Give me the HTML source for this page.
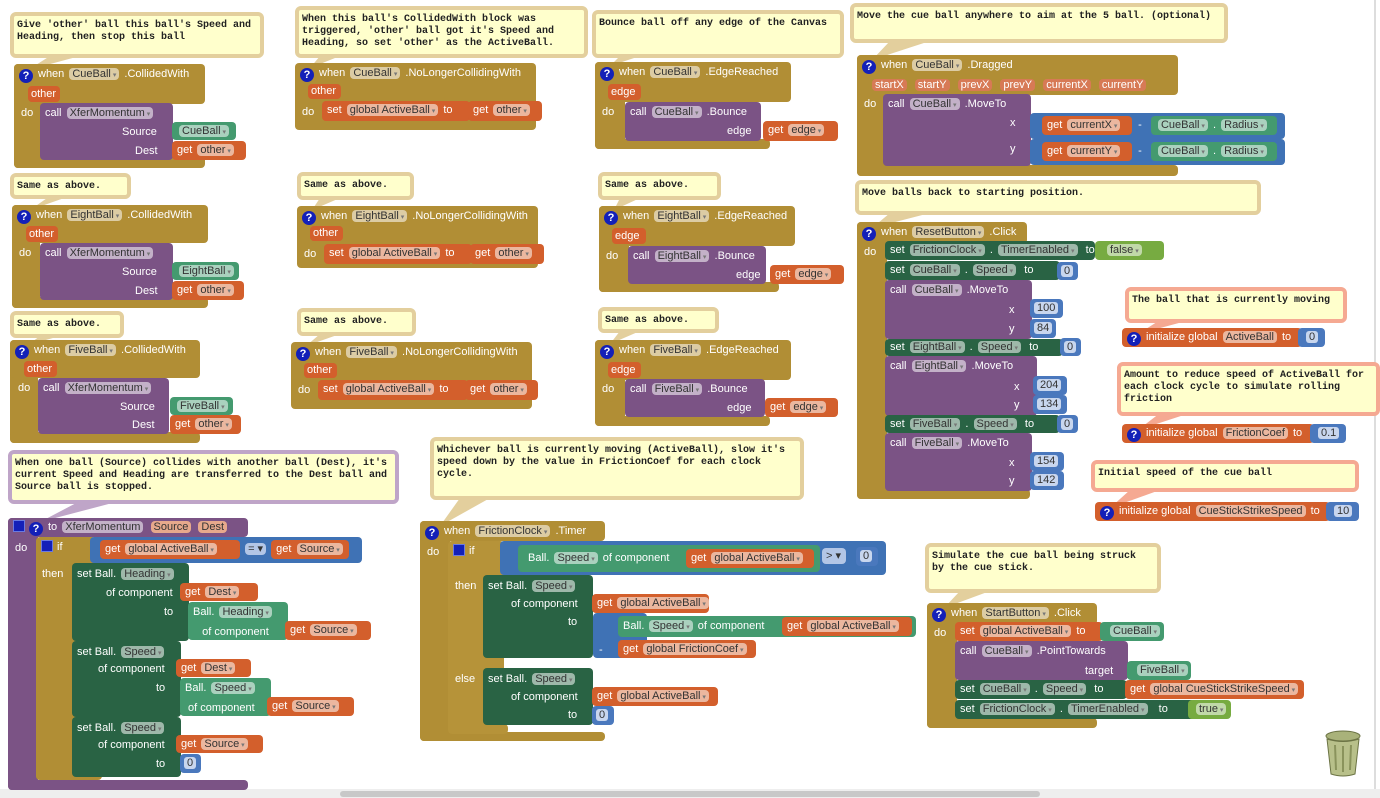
<!DOCTYPE html>
<html><head><meta charset="utf-8">
<style>
body{margin:0;width:1380px;height:798px;background:#fff;position:relative;overflow:hidden;font-family:"Liberation Sans",sans-serif}
.b{position:absolute;z-index:2;box-sizing:border-box;border-radius:4px;color:#fff;font:11px/18px "Liberation Sans",sans-serif;white-space:nowrap;padding-left:5px}
.bg{z-index:1}
.ev{background:#b18e35}
.pu{background:#7b5385}
.or{background:#d35f2c}
.dg{background:#296344}
.lg{background:#449a6f}
.bl{background:#3f72b5}
.lo{background:#77ab41}
.nu{background:#4a78bd;padding-left:4px}
.nu span{background:#c8d6ee;color:#333;border-radius:3px;padding:0 3px}
.f{background:rgba(255,255,255,.55);color:#333;border-radius:4px;padding:0 3px;margin:0 2px}
.f:after{content:" ▾";font-size:7px;color:#777}
.g{background:rgba(255,255,255,.55);color:#333;border-radius:4px;padding:0 3px;margin:0 2px}
.t{position:absolute;z-index:3;color:#fff;font:11px/16px "Liberation Sans",sans-serif;white-space:nowrap}
.c{position:absolute;z-index:2;background:#ffffcc;border:4px solid #e3cf9d;border-radius:6px;font:bold 10px/12px "Liberation Mono",monospace;color:#222;padding:4px 3px;box-sizing:border-box;white-space:pre}
.cp{border-color:#f5a992}
.cv{border-color:#bfa5c8}
.q{display:inline-block;width:14px;height:14px;border-radius:7px;background:#1320b8;color:#fff;font:bold 11px/14px "Liberation Sans";text-align:center;margin-right:5px;vertical-align:-2px}
.sq{display:inline-block;width:12px;height:12px;background:#1320b8;border:1px solid #6a7ae0;box-sizing:border-box;vertical-align:-2px;margin-right:4px}
</style></head><body>
<svg width="1380" height="798" style="position:absolute;left:0;top:0">
<g fill="#e3cf9d">
<polygon points="50,56 80,56 28,70"/>
<polygon points="50,196 70,196 30,210"/>
<polygon points="40,336 60,336 28,345"/>
<polygon points="320,56 340,56 310,68"/>
<polygon points="320,198 340,198 312,210"/>
<polygon points="320,334 340,334 306,346"/>
<polygon points="620,56 640,56 610,66"/>
<polygon points="620,198 640,198 614,210"/>
<polygon points="620,331 640,331 610,344"/>
<polygon points="890,41 930,41 872,60"/>
<polygon points="890,213 930,213 872,228"/>
<polygon points="460,498 490,498 440,526"/>
<polygon points="960,591 990,591 944,608"/>
</g>
<g fill="#f5a992">
<polygon points="1160,320 1190,320 1138,334"/>
<polygon points="1160,413 1190,413 1138,430"/>
<polygon points="1130,490 1160,490 1110,508"/>
</g>
<polygon points="80,501 120,501 40,522" fill="#bfa5c8"/>
<rect x="1374" y="0" width="2" height="790" fill="#ddd"/>
<rect x="0" y="789" width="1380" height="9" fill="#eee"/>
<rect x="340" y="791" width="700" height="6" rx="3" fill="#c8c8c8"/>
<g transform="translate(1325,730)">
<ellipse cx="18" cy="6" rx="17" ry="5" fill="#a9b27a" stroke="#6b7344"/>
<path d="M2,9 L6,44 Q18,48 30,44 L34,9 Q18,14 2,9Z" fill="#b8c08a" stroke="#6b7344"/>
<path d="M10,15 L11,40 M18,16 L18,42 M26,15 L25,40" stroke="#8a935c" stroke-width="2"/>
</g>
</svg>

<!-- Column 1 -->
<div class="c" style="left:10px;top:12px;width:254px;height:46px">Give 'other' ball this ball's Speed and
Heading, then stop this ball</div>
<div class="b ev" style="left:14px;top:64px;width:191px;height:40px;padding-top:1px"><span class="q">?</span>when <span class="f">CueBall</span> .CollidedWith</div>
<div class="b bg ev" style="left:14px;top:64px;width:28px;height:104px"></div>
<div class="b bg ev" style="left:14px;top:156px;width:191px;height:12px"></div>
<div class="b or" style="left:28px;top:86px;width:32px;height:16px;line-height:16px;padding-left:3px">other</div>
<div class="t" style="left:21px;top:105px">do</div>
<div class="b pu" style="left:40px;top:103px;width:133px;height:57px;padding-top:1px">call <span class="f">XferMomentum</span></div>
<div class="t" style="left:122px;top:124px">Source</div>
<div class="t" style="left:135px;top:143px">Dest</div>
<div class="b lg" style="left:172px;top:122px;width:64px;height:18px"><span class="f">CueBall</span></div>
<div class="b or" style="left:172px;top:141px;width:74px;height:19px">get <span class="f">other</span></div>

<div class="c" style="left:10px;top:173px;width:121px;height:26px">Same as above.</div>
<div class="b ev" style="left:12px;top:205px;width:196px;height:38px;padding-top:1px"><span class="q">?</span>when <span class="f">EightBall</span> .CollidedWith</div>
<div class="b bg ev" style="left:12px;top:205px;width:28px;height:103px"></div>
<div class="b bg ev" style="left:12px;top:297px;width:196px;height:11px"></div>
<div class="b or" style="left:26px;top:226px;width:32px;height:16px;line-height:16px;padding-left:3px">other</div>
<div class="t" style="left:19px;top:245px">do</div>
<div class="b pu" style="left:40px;top:243px;width:133px;height:57px;padding-top:1px">call <span class="f">XferMomentum</span></div>
<div class="t" style="left:122px;top:264px">Source</div>
<div class="t" style="left:135px;top:283px">Dest</div>
<div class="b lg" style="left:172px;top:262px;width:67px;height:18px"><span class="f">EightBall</span></div>
<div class="b or" style="left:172px;top:281px;width:72px;height:19px">get <span class="f">other</span></div>

<div class="c" style="left:10px;top:311px;width:114px;height:27px">Same as above.</div>
<div class="b ev" style="left:10px;top:340px;width:190px;height:38px;padding-top:1px"><span class="q">?</span>when <span class="f">FiveBall</span> .CollidedWith</div>
<div class="b bg ev" style="left:10px;top:340px;width:28px;height:103px"></div>
<div class="b bg ev" style="left:10px;top:432px;width:190px;height:11px"></div>
<div class="b or" style="left:24px;top:361px;width:33px;height:16px;line-height:16px;padding-left:3px">other</div>
<div class="t" style="left:18px;top:380px">do</div>
<div class="b pu" style="left:38px;top:378px;width:131px;height:56px;padding-top:1px">call <span class="f">XferMomentum</span></div>
<div class="t" style="left:120px;top:399px">Source</div>
<div class="t" style="left:132px;top:417px">Dest</div>
<div class="b lg" style="left:170px;top:397px;width:63px;height:18px"><span class="f">FiveBall</span></div>
<div class="b or" style="left:170px;top:415px;width:71px;height:19px">get <span class="f">other</span></div>

<div class="c cv" style="left:8px;top:450px;width:391px;height:54px">When one ball (Source) collides with another ball (Dest), it's
current Speed and Heading are transferred to the Dest ball and
Source ball is stopped.</div>
<div class="b pu" style="left:8px;top:518px;width:240px;height:19px;padding-top:0"><span class="sq"></span><span class="q">?</span>to <span class="g">XferMomentum</span> <span class="g" style="background:#e7a98c">Source</span> <span class="g" style="background:#e7a98c">Dest</span></div>
<div class="b bg pu" style="left:8px;top:518px;width:30px;height:272px"></div>
<div class="b bg pu" style="left:8px;top:780px;width:240px;height:10px"></div>
<div class="t" style="left:15px;top:540px">do</div>
<div class="b ev" style="left:36px;top:537px;width:60px;height:243px;padding-top:1px"><span class="sq"></span>if</div>
<div class="b ev" style="left:36px;top:770px;width:66px;height:10px"></div>
<div class="t" style="left:42px;top:566px">then</div>
<div class="b bl" style="left:90px;top:537px;width:272px;height:26px;padding-top:3px;padding-left:10px"><span class="b or" style="position:relative;display:inline-block;height:19px;width:140px;left:0">get <span class="f">global ActiveBall</span></span> <span class="g" style="background:#b3c6e6">= ▾</span> <span class="b or" style="position:relative;display:inline-block;height:19px;width:78px">get <span class="f">Source</span></span></div>
<div class="b dg" style="left:72px;top:563px;width:117px;height:78px;padding-top:2px">set Ball. <span class="f">Heading</span></div>
<div class="t" style="left:106px;top:585px">of component</div>
<div class="t" style="left:164px;top:604px">to</div>
<div class="b or" style="left:180px;top:583px;width:78px;height:18px">get <span class="f">Dest</span></div>
<div class="b lg" style="left:188px;top:602px;width:100px;height:38px;padding-top:1px">Ball. <span class="f">Heading</span><br>&nbsp;&nbsp;&nbsp;of component</div>
<div class="b or" style="left:285px;top:621px;width:86px;height:19px">get <span class="f">Source</span></div>
<div class="b dg" style="left:72px;top:641px;width:109px;height:76px;padding-top:2px">set Ball. <span class="f">Speed</span></div>
<div class="t" style="left:98px;top:661px">of component</div>
<div class="t" style="left:156px;top:680px">to</div>
<div class="b or" style="left:176px;top:659px;width:75px;height:18px">get <span class="f">Dest</span></div>
<div class="b lg" style="left:180px;top:678px;width:91px;height:38px;padding-top:1px">Ball. <span class="f">Speed</span><br>&nbsp;of component</div>
<div class="b or" style="left:267px;top:697px;width:87px;height:19px">get <span class="f">Source</span></div>
<div class="b dg" style="left:72px;top:717px;width:109px;height:60px;padding-top:2px">set Ball. <span class="f">Speed</span></div>
<div class="t" style="left:98px;top:737px">of component</div>
<div class="t" style="left:156px;top:756px">to</div>
<div class="b or" style="left:176px;top:735px;width:87px;height:18px">get <span class="f">Source</span></div>
<div class="b nu" style="left:180px;top:754px;width:21px;height:19px"><span>0</span></div>

<!-- Column 2 -->
<div class="c" style="left:295px;top:6px;width:293px;height:52px">When this ball's CollidedWith block was
triggered, 'other' ball got it's Speed and
Heading, so set 'other' as the ActiveBall.</div>
<div class="b ev" style="left:295px;top:63px;width:241px;height:67px;padding-top:1px"><span class="q">?</span>when <span class="f">CueBall</span> .NoLongerCollidingWith</div>
<div class="b or" style="left:308px;top:84px;width:33px;height:15px;line-height:15px;padding-left:3px">other</div>
<div class="t" style="left:302px;top:104px">do</div>
<div class="b or" style="left:322px;top:101px;width:148px;height:20px">set <span class="f">global ActiveBall</span> to</div>
<div class="b or" style="left:468px;top:101px;width:74px;height:20px">get <span class="f">other</span></div>

<div class="c" style="left:297px;top:172px;width:117px;height:28px">Same as above.</div>
<div class="b ev" style="left:297px;top:206px;width:241px;height:62px;padding-top:1px"><span class="q">?</span>when <span class="f">EightBall</span> .NoLongerCollidingWith</div>
<div class="b or" style="left:310px;top:226px;width:33px;height:15px;line-height:15px;padding-left:3px">other</div>
<div class="t" style="left:304px;top:246px">do</div>
<div class="b or" style="left:324px;top:244px;width:148px;height:20px">set <span class="f">global ActiveBall</span> to</div>
<div class="b or" style="left:470px;top:244px;width:74px;height:20px">get <span class="f">other</span></div>

<div class="c" style="left:297px;top:308px;width:119px;height:28px">Same as above.</div>
<div class="b ev" style="left:291px;top:342px;width:241px;height:67px;padding-top:1px"><span class="q">?</span>when <span class="f">FiveBall</span> .NoLongerCollidingWith</div>
<div class="b or" style="left:304px;top:363px;width:33px;height:15px;line-height:15px;padding-left:3px">other</div>
<div class="t" style="left:298px;top:382px">do</div>
<div class="b or" style="left:318px;top:380px;width:150px;height:20px">set <span class="f">global ActiveBall</span> to</div>
<div class="b or" style="left:465px;top:380px;width:73px;height:20px">get <span class="f">other</span></div>

<!-- Column 3 -->
<div class="c" style="left:592px;top:10px;width:252px;height:48px">Bounce ball off any edge of the Canvas</div>
<div class="b ev" style="left:595px;top:62px;width:196px;height:40px;padding-top:1px"><span class="q">?</span>when <span class="f">CueBall</span> .EdgeReached</div>
<div class="b bg ev" style="left:595px;top:62px;width:30px;height:87px"></div>
<div class="b bg ev" style="left:595px;top:139px;width:175px;height:10px"></div>
<div class="b or" style="left:608px;top:84px;width:33px;height:16px;line-height:16px;padding-left:3px">edge</div>
<div class="t" style="left:602px;top:104px">do</div>
<div class="b pu" style="left:625px;top:102px;width:136px;height:39px;padding-top:1px">call <span class="f">CueBall</span> .Bounce</div>
<div class="t" style="left:727px;top:123px">edge</div>
<div class="b or" style="left:763px;top:121px;width:75px;height:20px">get <span class="f">edge</span></div>

<div class="c" style="left:598px;top:172px;width:123px;height:28px">Same as above.</div>
<div class="b ev" style="left:599px;top:206px;width:196px;height:40px;padding-top:1px"><span class="q">?</span>when <span class="f">EightBall</span> .EdgeReached</div>
<div class="b bg ev" style="left:599px;top:206px;width:30px;height:86px"></div>
<div class="b bg ev" style="left:599px;top:282px;width:180px;height:10px"></div>
<div class="b or" style="left:612px;top:228px;width:34px;height:16px;line-height:16px;padding-left:3px">edge</div>
<div class="t" style="left:606px;top:248px">do</div>
<div class="b pu" style="left:628px;top:246px;width:138px;height:38px;padding-top:1px">call <span class="f">EightBall</span> .Bounce</div>
<div class="t" style="left:736px;top:267px">edge</div>
<div class="b or" style="left:770px;top:265px;width:74px;height:19px">get <span class="f">edge</span></div>

<div class="c" style="left:598px;top:307px;width:121px;height:26px">Same as above.</div>
<div class="b ev" style="left:595px;top:340px;width:196px;height:40px;padding-top:1px"><span class="q">?</span>when <span class="f">FiveBall</span> .EdgeReached</div>
<div class="b bg ev" style="left:595px;top:340px;width:30px;height:86px"></div>
<div class="b bg ev" style="left:595px;top:416px;width:175px;height:10px"></div>
<div class="b or" style="left:608px;top:362px;width:33px;height:16px;line-height:16px;padding-left:3px">edge</div>
<div class="t" style="left:602px;top:381px">do</div>
<div class="b pu" style="left:625px;top:379px;width:140px;height:38px;padding-top:1px">call <span class="f">FiveBall</span> .Bounce</div>
<div class="t" style="left:727px;top:400px">edge</div>
<div class="b or" style="left:765px;top:398px;width:73px;height:19px">get <span class="f">edge</span></div>

<!-- Friction timer -->
<div class="c" style="left:430px;top:437px;width:374px;height:63px">Whichever ball is currently moving (ActiveBall), slow it's
speed down by the value in FrictionCoef for each clock
cycle.</div>
<div class="b ev" style="left:420px;top:521px;width:185px;height:20px;padding-top:1px"><span class="q">?</span>when <span class="f">FrictionClock</span> .Timer</div>
<div class="b bg ev" style="left:420px;top:521px;width:30px;height:220px"></div>
<div class="b bg ev" style="left:420px;top:732px;width:185px;height:9px"></div>
<div class="t" style="left:427px;top:544px">do</div>
<div class="b ev" style="left:448px;top:541px;width:56px;height:192px;padding-top:1px;background:#b69339"><span class="sq"></span>if</div>
<div class="b ev" style="left:448px;top:724px;width:60px;height:10px;background:#b69339"></div>
<div class="t" style="left:455px;top:578px">then</div>
<div class="t" style="left:455px;top:671px">else</div>
<div class="b bl" style="left:500px;top:541px;width:386px;height:34px"></div>
<div class="b lg" style="left:518px;top:545px;width:302px;height:27px;padding-top:4px;padding-left:10px">Ball. <span class="f">Speed</span> of component</div>
<div class="b or" style="left:686px;top:549px;width:128px;height:19px">get <span class="f">global ActiveBall</span></div>
<div class="b" style="left:822px;top:548px;width:24px;height:16px;line-height:16px;background:#b3c6e6;color:#333;padding-left:4px">&gt; ▾</div>
<div class="b nu" style="left:856px;top:547px;width:22px;height:19px"><span>0</span></div>
<div class="b dg" style="left:483px;top:575px;width:110px;height:83px;padding-top:2px">set Ball. <span class="f">Speed</span></div>
<div class="t" style="left:511px;top:596px">of component</div>
<div class="t" style="left:568px;top:614px">to</div>
<div class="b or" style="left:592px;top:594px;width:117px;height:19px">get <span class="f">global ActiveBall</span></div>
<div class="b bl" style="left:593px;top:613px;width:54px;height:45px"></div>
<div class="t" style="left:599px;top:642px">-</div>
<div class="b lg" style="left:618px;top:616px;width:298px;height:21px;padding-top:1px">Ball. <span class="f">Speed</span> of component</div>
<div class="b or" style="left:618px;top:640px;width:138px;height:18px">get <span class="f">global FrictionCoef</span></div>
<div class="b or" style="left:782px;top:617px;width:130px;height:19px">get <span class="f">global ActiveBall</span></div>
<div class="b dg" style="left:483px;top:668px;width:110px;height:57px;padding-top:2px">set Ball. <span class="f">Speed</span></div>
<div class="t" style="left:511px;top:689px">of component</div>
<div class="t" style="left:568px;top:707px">to</div>
<div class="b or" style="left:592px;top:687px;width:126px;height:19px">get <span class="f">global ActiveBall</span></div>
<div class="b nu" style="left:592px;top:706px;width:22px;height:19px"><span>0</span></div>

<!-- Dragged -->
<div class="c" style="left:850px;top:3px;width:378px;height:40px">Move the cue ball anywhere to aim at the 5 ball. (optional)</div>
<div class="b ev" style="left:857px;top:55px;width:321px;height:40px;padding-top:1px"><span class="q">?</span>when <span class="f">CueBall</span> .Dragged</div>
<div class="b bg ev" style="left:857px;top:55px;width:28px;height:121px"></div>
<div class="b bg ev" style="left:857px;top:165px;width:321px;height:11px"></div>
<div class="t" style="left:870px;top:77px">
<span class="g" style="background:#d77a55;color:#fff;margin-right:3px">startX</span> <span class="g" style="background:#d77a55;color:#fff;margin-right:3px">startY</span> <span class="g" style="background:#d77a55;color:#fff;margin-right:3px">prevX</span> <span class="g" style="background:#d77a55;color:#fff;margin-right:3px">prevY</span> <span class="g" style="background:#d77a55;color:#fff;margin-right:3px">currentX</span> <span class="g" style="background:#d77a55;color:#fff">currentY</span></div>
<div class="t" style="left:864px;top:96px">do</div>
<div class="b pu" style="left:883px;top:94px;width:148px;height:72px;padding-top:1px">call <span class="f">CueBall</span> .MoveTo</div>
<div class="t" style="left:1010px;top:115px">x</div>
<div class="t" style="left:1010px;top:141px">y</div>
<div class="b bl" style="left:1030px;top:113px;width:255px;height:26px;padding-top:3px;padding-left:12px"><span class="b or" style="position:relative;display:inline-block;height:19px;width:90px">get <span class="f">currentX</span></span> &nbsp;- &nbsp;&nbsp;<span class="b lg" style="position:relative;display:inline-block;height:19px;width:126px"><span class="f">CueBall</span> . <span class="f">Radius</span></span></div>
<div class="b bl" style="left:1030px;top:139px;width:255px;height:26px;padding-top:3px;padding-left:12px"><span class="b or" style="position:relative;display:inline-block;height:19px;width:90px">get <span class="f">currentY</span></span> &nbsp;- &nbsp;&nbsp;<span class="b lg" style="position:relative;display:inline-block;height:19px;width:126px"><span class="f">CueBall</span> . <span class="f">Radius</span></span></div>

<!-- Reset -->
<div class="c" style="left:855px;top:180px;width:406px;height:35px">Move balls back to starting position.</div>
<div class="b ev" style="left:857px;top:222px;width:170px;height:22px;padding-top:1px"><span class="q">?</span>when <span class="f">ResetButton</span> .Click</div>
<div class="b bg ev" style="left:857px;top:222px;width:30px;height:277px"></div>
<div class="b bg ev" style="left:857px;top:489px;width:173px;height:10px"></div>
<div class="t" style="left:864px;top:244px">do</div>
<div class="b dg" style="left:885px;top:241px;width:210px;height:19px">set <span class="f">FrictionClock</span> . <span class="f">TimerEnabled</span> &nbsp;to</div>
<div class="b lo" style="left:1095px;top:241px;width:69px;height:19px;padding-left:10px"><span class="f">false</span></div>
<div class="b dg" style="left:885px;top:261px;width:175px;height:19px">set <span class="f">CueBall</span> . <span class="f">Speed</span> &nbsp;to</div>
<div class="b nu" style="left:1057px;top:262px;width:21px;height:18px"><span>0</span></div>
<div class="b pu" style="left:885px;top:280px;width:147px;height:59px;padding-top:1px">call <span class="f">CueBall</span> .MoveTo</div>
<div class="t" style="left:1009px;top:302px">x</div>
<div class="t" style="left:1009px;top:321px">y</div>
<div class="b nu" style="left:1030px;top:299px;width:33px;height:19px"><span>100</span></div>
<div class="b nu" style="left:1030px;top:319px;width:26px;height:19px"><span>84</span></div>
<div class="b dg" style="left:885px;top:339px;width:178px;height:17px;line-height:17px">set <span class="f">EightBall</span> . <span class="f">Speed</span> &nbsp;to</div>
<div class="b nu" style="left:1060px;top:338px;width:21px;height:18px"><span>0</span></div>
<div class="b pu" style="left:885px;top:356px;width:152px;height:60px;padding-top:1px">call <span class="f">EightBall</span> .MoveTo</div>
<div class="t" style="left:1014px;top:379px">x</div>
<div class="t" style="left:1014px;top:397px">y</div>
<div class="b nu" style="left:1033px;top:376px;width:34px;height:19px"><span>204</span></div>
<div class="b nu" style="left:1033px;top:395px;width:34px;height:19px"><span>134</span></div>
<div class="b dg" style="left:885px;top:415px;width:175px;height:18px">set <span class="f">FiveBall</span> . <span class="f">Speed</span> &nbsp;to</div>
<div class="b nu" style="left:1057px;top:415px;width:21px;height:18px"><span>0</span></div>
<div class="b pu" style="left:885px;top:433px;width:147px;height:58px;padding-top:1px">call <span class="f">FiveBall</span> .MoveTo</div>
<div class="t" style="left:1009px;top:455px">x</div>
<div class="t" style="left:1009px;top:473px">y</div>
<div class="b nu" style="left:1030px;top:452px;width:34px;height:19px"><span>154</span></div>
<div class="b nu" style="left:1030px;top:471px;width:34px;height:19px"><span>142</span></div>

<!-- globals -->
<div class="c cp" style="left:1125px;top:287px;width:222px;height:36px">The ball that is currently moving</div>
<div class="b or" style="left:1122px;top:328px;width:180px;height:19px"><span class="q">?</span>initialize global <span class="g">ActiveBall</span> to</div>
<div class="b nu" style="left:1298px;top:328px;width:27px;height:19px;padding-left:8px"><span>0</span></div>
<div class="c cp" style="left:1117px;top:362px;width:263px;height:54px">Amount to reduce speed of ActiveBall for
each clock cycle to simulate rolling
friction</div>
<div class="b or" style="left:1122px;top:424px;width:192px;height:19px"><span class="q">?</span>initialize global <span class="g">FrictionCoef</span> to</div>
<div class="b nu" style="left:1310px;top:424px;width:36px;height:19px;padding-left:8px"><span>0.1</span></div>
<div class="c cp" style="left:1091px;top:460px;width:268px;height:32px">Initial speed of the cue ball</div>
<div class="b or" style="left:1095px;top:502px;width:235px;height:19px"><span class="q">?</span>initialize global <span class="g">CueStickStrikeSpeed</span> to</div>
<div class="b nu" style="left:1326px;top:502px;width:33px;height:19px;padding-left:8px"><span>10</span></div>

<!-- Start -->
<div class="c" style="left:925px;top:543px;width:236px;height:50px">Simulate the cue ball being struck
by the cue stick.</div>
<div class="b ev" style="left:927px;top:603px;width:170px;height:22px;padding-top:1px"><span class="q">?</span>when <span class="f">StartButton</span> .Click</div>
<div class="b bg ev" style="left:927px;top:603px;width:30px;height:125px"></div>
<div class="b bg ev" style="left:927px;top:718px;width:170px;height:10px"></div>
<div class="t" style="left:934px;top:625px">do</div>
<div class="b or" style="left:955px;top:622px;width:148px;height:19px">set <span class="f">global ActiveBall</span> to</div>
<div class="b lg" style="left:1100px;top:622px;width:64px;height:19px;padding-left:8px"><span class="f">CueBall</span></div>
<div class="b pu" style="left:955px;top:641px;width:173px;height:39px;padding-top:1px">call <span class="f">CueBall</span> .PointTowards</div>
<div class="t" style="left:1085px;top:663px">target</div>
<div class="b lg" style="left:1127px;top:661px;width:64px;height:19px;padding-left:8px"><span class="f">FiveBall</span></div>
<div class="b dg" style="left:955px;top:680px;width:172px;height:19px">set <span class="f">CueBall</span> . <span class="f">Speed</span> &nbsp;to</div>
<div class="b or" style="left:1125px;top:680px;width:179px;height:19px">get <span class="f">global CueStickStrikeSpeed</span></div>
<div class="b dg" style="left:955px;top:700px;width:240px;height:19px">set <span class="f">FrictionClock</span> . <span class="f">TimerEnabled</span> &nbsp;&nbsp;to</div>
<div class="b lo" style="left:1188px;top:700px;width:43px;height:19px;padding-left:6px"><span class="f">true</span></div>
</body></html>
